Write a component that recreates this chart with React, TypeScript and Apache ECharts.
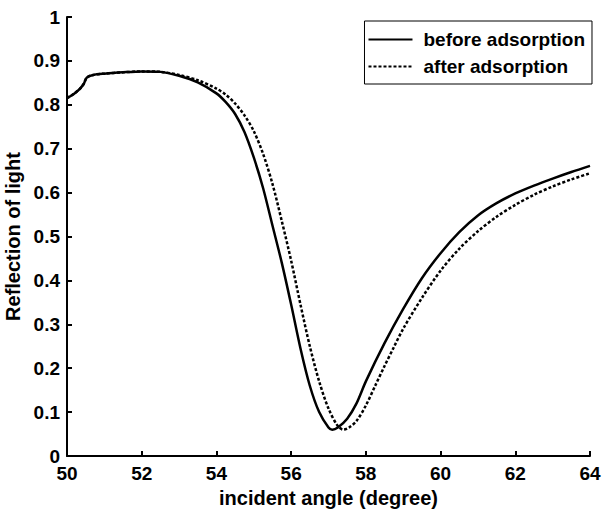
import React, { useEffect, useRef } from "react";
import * as echarts from "echarts";

const anglesBefore = [50.0, 50.2, 50.35, 50.45, 50.53, 50.7, 51.0, 51.5, 52.0, 52.5, 53.0, 53.5, 54.0, 54.25, 54.5, 54.75, 55.0, 55.25, 55.5, 55.75, 56.0, 56.25, 56.5, 56.75, 57.0, 57.1, 57.25, 57.5, 57.75, 58.0, 58.5, 59.0, 59.5, 60.0, 60.5, 61.0, 61.5, 62.0, 62.5, 63.0, 63.5, 64.0];
const reflBefore = [0.815, 0.826, 0.837, 0.848, 0.862, 0.868, 0.871, 0.874, 0.876, 0.875, 0.866, 0.851, 0.826, 0.806, 0.779, 0.738, 0.68, 0.61, 0.525, 0.44, 0.345, 0.245, 0.16, 0.1, 0.065, 0.06, 0.065, 0.085, 0.12, 0.17, 0.257, 0.335, 0.405, 0.462, 0.51, 0.548, 0.576, 0.598, 0.616, 0.632, 0.647, 0.661];

const anglesAfter = [50.0, 50.2, 50.35, 50.45, 50.53, 50.7, 51.0, 51.5, 52.0, 52.5, 53.0, 53.5, 54.0, 54.25, 54.5, 54.75, 55.0, 55.25, 55.5, 55.75, 56.0, 56.25, 56.5, 56.75, 57.0, 57.25, 57.4, 57.55, 57.75, 58.0, 58.25, 58.5, 58.75, 59.0, 59.5, 60.0, 60.5, 61.0, 61.5, 62.0, 62.5, 63.0, 63.5, 64.0];
const reflAfter = [0.815, 0.826, 0.837, 0.848, 0.862, 0.868, 0.871, 0.874, 0.876, 0.875, 0.868, 0.856, 0.837, 0.823, 0.803, 0.776, 0.74, 0.688, 0.62, 0.535, 0.445, 0.345, 0.25, 0.17, 0.108, 0.068, 0.06, 0.065, 0.08, 0.115, 0.16, 0.205, 0.248, 0.29, 0.36, 0.422, 0.472, 0.512, 0.545, 0.572, 0.595, 0.614, 0.63, 0.644];

const seriesNames = ["before adsorption", "after adsorption"];

export default function App() {
  const ref = useRef<HTMLDivElement>(null);
  useEffect(() => {
    if (!ref.current) return;
    const chart = echarts.init(ref.current, null, { renderer: "svg" });
    const font = "Liberation Sans, Arial, sans-serif";
    chart.setOption({
      animation: false,
      backgroundColor: "#ffffff",
      grid: { left: 67, right: 12, top: 17, bottom: 54, outerBoundsMode: "none", containLabel: false },
      legend: {
        data: seriesNames,
        orient: "vertical",
        right: 10,
        top: 21,
        padding: [9, 7, 8, 3],
        itemGap: 8,
        itemWidth: 44,
        itemHeight: 14,
        borderColor: "#000",
        borderWidth: 1,
        borderRadius: 0,
        backgroundColor: "#fff",
        itemStyle: { opacity: 0 },
        textStyle: { fontFamily: font, fontWeight: "bold", fontSize: 19, color: "#000", padding: [0, 0, 0, 6] },
      },
      xAxis: {
        type: "value",
        min: 50,
        max: 64,
        interval: 2,
        name: "incident angle (degree)",
        nameLocation: "middle",
        nameGap: 24,
        nameTextStyle: { fontFamily: font, fontWeight: "bold", fontSize: 20, color: "#000" },
        axisLine: { show: true, onZero: false, lineStyle: { color: "#000", width: 2 } },
        axisTick: { show: true, inside: true, length: 5, lineStyle: { color: "#000", width: 2 } },
        axisLabel: { margin: 8, fontFamily: font, fontWeight: "bold", fontSize: 19, color: "#000" },
        splitLine: { show: false },
      },
      yAxis: {
        type: "value",
        min: 0,
        max: 1,
        interval: 0.1,
        name: "Reflection of light",
        nameLocation: "middle",
        nameGap: 37,
        nameRotate: 90,
        nameTextStyle: { fontFamily: font, fontWeight: "bold", fontSize: 20, color: "#000" },
        axisLine: { show: true, onZero: false, lineStyle: { color: "#000", width: 2 } },
        axisTick: { show: true, inside: true, length: 5, lineStyle: { color: "#000", width: 2 } },
        axisLabel: { margin: 7, fontFamily: font, fontWeight: "bold", fontSize: 19, color: "#000" },
        splitLine: { show: false },
      },
      series: [
        {
          name: seriesNames[0],
          type: "line",
          data: anglesBefore.map((a, i) => [a, reflBefore[i]]),
          showSymbol: false,
          symbol: "none",
          smooth: 0.3,
          lineStyle: { color: "#000", width: 2.5, type: "solid" },
          itemStyle: { color: "#000" },
          z: 3,
        },
        {
          name: seriesNames[1],
          type: "line",
          data: anglesAfter.map((a, i) => [a, reflAfter[i]]),
          showSymbol: false,
          symbol: "none",
          smooth: 0.3,
          lineStyle: { color: "#000", width: 2.5, type: [3, 2] },
          itemStyle: { color: "#000" },
          z: 2,
        },
      ],
    });
    return () => chart.dispose();
  }, []);
  return <div ref={ref} style={{ position: "fixed", left: 0, top: 0, width: 602, height: 510 }} />;
}
